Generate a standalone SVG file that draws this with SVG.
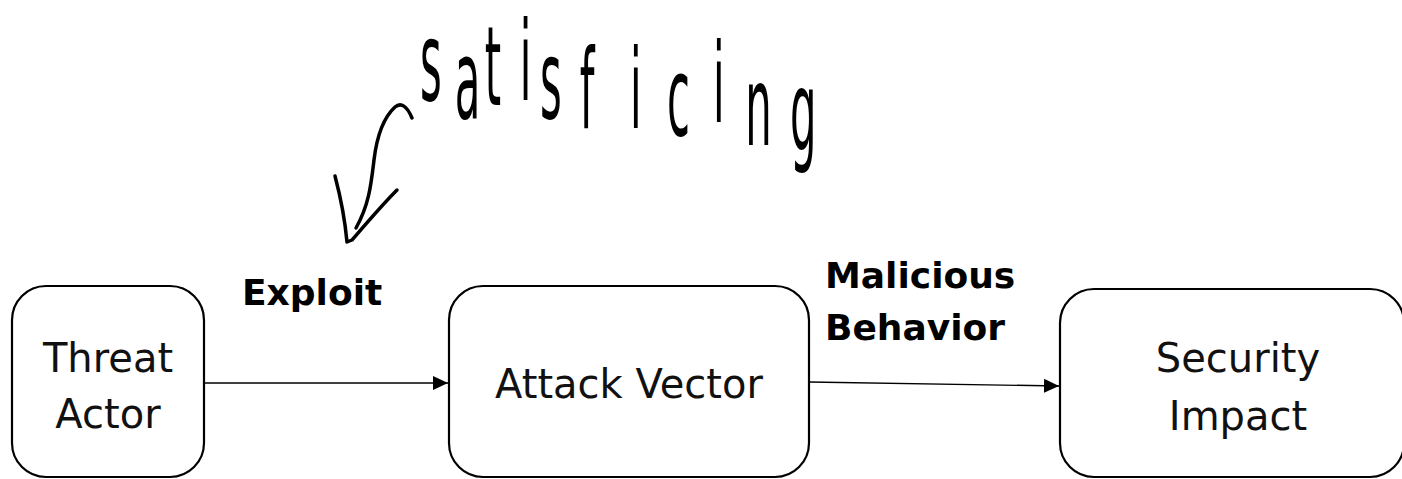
<svg xmlns="http://www.w3.org/2000/svg" width="1402" height="479" viewBox="0 0 1402 479">
<style>
.box{fill:#fff;stroke:#000;stroke-width:2.2}
.lbl{font-family:"DejaVu Sans",sans-serif;font-size:40px;fill:#111;text-anchor:middle}
.edge{font-family:"DejaVu Sans",sans-serif;font-weight:bold;font-size:36px;fill:#000}
.conn{stroke:#000;stroke-width:1.4;fill:none}
.ink{stroke:#000;stroke-width:3.5;fill:none;stroke-linecap:round;stroke-linejoin:round}
.hand{font-family:"DejaVu Sans",sans-serif;font-size:110px;fill:#000}
</style>
<defs>
<marker id="ah" markerWidth="15" markerHeight="14" refX="15" refY="7" orient="auto" markerUnits="userSpaceOnUse">
<path d="M0,0 L15,7 L0,14 Z" fill="#000"/>
</marker>
</defs>
<rect width="1402" height="479" fill="#fff"/>
<g id="connectors">
<line class="conn" x1="205" y1="383" x2="448" y2="383" marker-end="url(#ah)"/>
<line class="conn" x1="809" y1="382" x2="1059" y2="386" marker-end="url(#ah)"/>
<text class="edge" x="242" y="305">Exploit</text>
<text class="edge" x="825" y="288">Malicious</text>
<text class="edge" x="825" y="340">Behavior</text>
</g>
<g id="node-threat-actor">
<rect class="box" x="12" y="286" width="192" height="191" rx="34"/>
<text class="lbl" x="108" y="372">Threat</text>
<text class="lbl" x="108" y="428">Actor</text>
</g>
<g id="node-attack-vector">
<rect class="box" x="449" y="286" width="360" height="191" rx="34"/>
<text class="lbl" x="629" y="398">Attack Vector</text>
</g>
<g id="node-security-impact">
<rect class="box" x="1060" y="289" width="344" height="188" rx="34"/>
<text class="lbl" x="1238" y="372">Security</text>
<text class="lbl" x="1238" y="430">Impact</text>
</g>
<g id="annotation">
<path class="ink" d="M412,118 C407,106 401,102 395,107 C383,118 377,135 374,160 C371,185 369,205 356,228"/>
<path class="ink" d="M335,176 C340,195 345,220 347,242 L352,240 C365,225 382,205 397,190"/>
<g transform="scale(0.38,1)">
<text class="hand"><tspan x="1105" y="100">s</tspan><tspan x="1197" y="118">a</tspan><tspan x="1276" y="105">t</tspan><tspan x="1368" y="100">i</tspan><tspan x="1421" y="118">s</tspan><tspan x="1526" y="128">f</tspan><tspan x="1658" y="128">i</tspan><tspan x="1755" y="135">c</tspan><tspan x="1876" y="122">i</tspan><tspan x="1961" y="145">n</tspan><tspan x="2079" y="150">g</tspan></text>
</g>
</g>
</svg>
